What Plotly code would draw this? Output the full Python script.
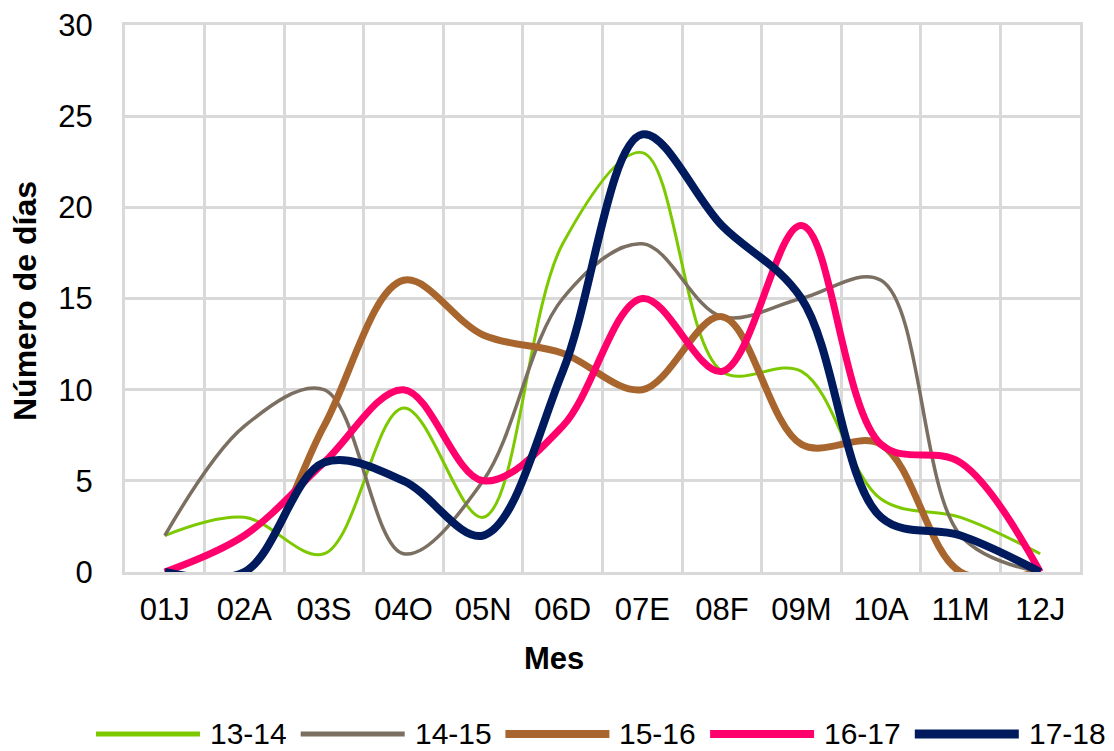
import plotly.graph_objects as go

categories = ["01J", "02A", "03S", "04O", "05N", "06D", "07E", "08F", "09M", "10A", "11M", "12J"]
s_13_14 = [2, 3, 1, 9, 3, 18, 23, 11, 11, 4, 3, 1]
s_14_15 = [2, 8, 10, 1, 5, 15, 18, 14, 15, 16, 2, 0]
s_15_16 = [0, 0, 8, 16, 13, 12, 10, 14, 7, 7, 0, 0]
s_16_17 = [0, 2, 6, 10, 5, 8, 15, 11, 19, 7, 6, 0]
s_17_18 = [0, 0, 6, 5, 2, 11, 24, 19, 15, 3, 2, 0]
series_names = ["13-14", "14-15", "15-16", "16-17", "17-18"]
y_ticks = [0, 5, 10, 15, 20, 25, 30]

series_values = [s_13_14, s_14_15, s_15_16, s_16_17, s_17_18]
colors = ["#7DC900", "#7B6F62", "#A8662E", "#FF006C", "#001A5E"]
widths = [3, 3.5, 7, 7, 8]

FONT = "Liberation Sans, Arial, sans-serif"
FS = 31

# page has an 8px body margin: shift the figure frame accordingly
OFF = 8
PAGE_W, PAGE_H = 1114, 751
W, H = PAGE_W - OFF, PAGE_H - OFF
# plot area in page pixels
PL, PR, PT, PB = 125, 1080, 25, 572
L, T = PL - OFF, PT - OFF
R, B = W - (PR - OFF), H - (PB - OFF)
pw = PR - PL
ph = PB - PT


def px_x(px):
    return (px - PL) / pw


def px_y(py):
    return (PB - py) / ph


fig = go.Figure()
for name, vals, c, w in zip(series_names, series_values, colors, widths):
    fig.add_trace(go.Scatter(
        x=categories, y=vals, name=name, mode="lines",
        line=dict(color=c, width=w, shape="spline", smoothing=1),
        showlegend=False,
    ))

# custom legend (long line samples like the original)
shapes = []
annotations = []
for i, (name, c, w) in enumerate(zip(series_names, colors, widths)):
    x0 = 96 + i * 204.7
    x1 = x0 + 104
    ly = 734
    shapes.append(dict(type="line", xref="paper", yref="paper",
                       x0=px_x(x0), x1=px_x(x1), y0=px_y(ly), y1=px_y(ly),
                       line=dict(color=c, width=max(w, 4) + 1)))
    annotations.append(dict(xref="paper", yref="paper", x=px_x(x1 + 8), y=px_y(ly - 1),
                            text=name, showarrow=False, xanchor="left", yanchor="middle",
                            font=dict(family=FONT, size=FS - 1, color="#000000")))

annotations.append(dict(xref="paper", yref="paper", x=px_x(554), y=px_y(658),
                        text="<b>Mes</b>", showarrow=False, xanchor="center", yanchor="middle",
                        font=dict(family=FONT, size=FS, color="#000000")))
annotations.append(dict(xref="paper", yref="paper", x=px_x(25), y=px_y(301),
                        text="<b>Número de días</b>", showarrow=False, textangle=-90,
                        xanchor="center", yanchor="middle",
                        font=dict(family=FONT, size=FS + 1, color="#000000")))

grid = "#D9D9D9"
fig.update_layout(
    width=W, height=H,
    margin=dict(l=L, r=R, t=T, b=B, autoexpand=False),
    paper_bgcolor="white", plot_bgcolor="white",
    font=dict(family=FONT, size=FS, color="#000000"),
    shapes=shapes, annotations=annotations,
    showlegend=False,
    xaxis=dict(type="category", categoryorder="array", categoryarray=categories,
               range=[-0.5, len(categories) - 0.5], tickson="boundaries",
               showgrid=True, gridcolor=grid, gridwidth=3,
               showline=True, linecolor=grid, linewidth=3, mirror=True,
               ticks="", ticklabelstandoff=8, zeroline=False,
               tickfont=dict(family=FONT, size=FS)),
    yaxis=dict(range=[0, 30], tickvals=y_ticks,
               showgrid=True, gridcolor=grid, gridwidth=3,
               showline=True, linecolor=grid, linewidth=3, mirror=True,
               ticks="", ticklabelstandoff=23, zeroline=False,
               ticklabeloverflow="allow",
               tickfont=dict(family=FONT, size=FS)),
)

fig.write_html("out.html")
